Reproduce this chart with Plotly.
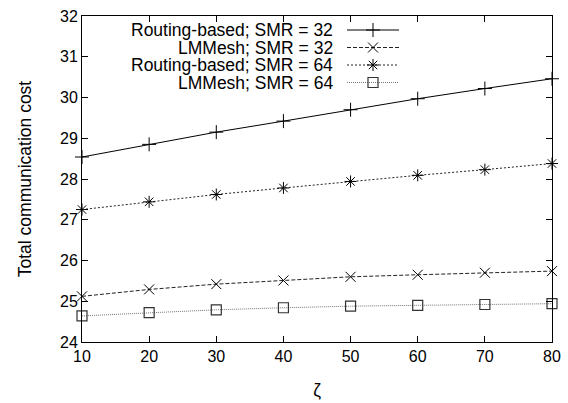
import plotly.graph_objects as go

# Total communication cost vs. zeta for two schemes at two SMR values
zeta = [10, 20, 30, 40, 50, 60, 70, 80]
routing_smr32 = [28.54, 28.85, 29.15, 29.42, 29.70, 29.97, 30.22, 30.46]
lmmesh_smr32 = [25.12, 25.29, 25.42, 25.51, 25.60, 25.65, 25.70, 25.74]
routing_smr64 = [27.25, 27.44, 27.62, 27.78, 27.94, 28.09, 28.23, 28.38]
lmmesh_smr64 = [24.64, 24.72, 24.79, 24.84, 24.88, 24.90, 24.92, 24.94]

series_names = [
    "Routing-based; SMR = 32",
    "LMMesh; SMR = 32",
    "Routing-based; SMR = 64",
    "LMMesh; SMR = 64",
]
x_ticks = [10, 20, 30, 40, 50, 60, 70, 80]
y_ticks = [24, 25, 26, 27, 28, 29, 30, 31, 32]

FONT = "Liberation Sans, Arial, sans-serif"

styles = [
    dict(line=dict(color="black", width=1, dash="solid"),
         marker=dict(symbol="cross-thin", size=10, color="black",
                     line=dict(color="black", width=1))),
    dict(line=dict(color="#222222", width=1, dash="4px,2px"),
         marker=dict(symbol="x-thin", size=10, color="black",
                     line=dict(color="black", width=1))),
    dict(line=dict(color="#222222", width=1, dash="2px,2px"),
         marker=dict(symbol="asterisk-open", size=10, color="black",
                     line=dict(color="black", width=1))),
    dict(line=dict(color="#777777", width=1, dash="1px,1px"),
         marker=dict(symbol="square-open", size=10, color="#333333",
                     line=dict(color="#333333", width=1.2))),
]
series = [routing_smr32, lmmesh_smr32, routing_smr64, lmmesh_smr64]

fig = go.Figure()
for name, ys, st in zip(series_names, series, styles):
    fig.add_trace(go.Scatter(
        x=zeta, y=ys, name=name, mode="lines+markers",
        line=st["line"], marker=st["marker"], cliponaxis=False,
        showlegend=False,
    ))

# Key drawn in the gnuplot style: right-aligned label, sample line to its right
key_rows = [30, 47.5, 65, 82.5]
for name, row, st in zip(series_names, key_rows, styles):
    fig.add_trace(go.Scatter(
        x=[347, 399], y=[row, row], mode="lines", line=st["line"],
        xaxis="x2", yaxis="y2", showlegend=False, hoverinfo="skip",
    ))
    fig.add_trace(go.Scatter(
        x=[373], y=[row], mode="markers", marker=st["marker"],
        xaxis="x2", yaxis="y2", showlegend=False, hoverinfo="skip",
        cliponaxis=False,
    ))
    fig.add_annotation(
        x=335, y=row, xref="x2", yref="y2", text=name, showarrow=False,
        xanchor="right", yanchor="middle",
        font=dict(family=FONT, size=17.5, color="black"),
    )

axis_common = dict(
    showline=True, linecolor="black", linewidth=1, mirror="ticks",
    ticks="inside", ticklen=6, tickwidth=1, tickcolor="black",
    showgrid=False, zeroline=False, automargin=False,
    tickfont=dict(family=FONT, size=16, color="black"),
)

fig.update_layout(
    width=568, height=403,
    margin=dict(l=82, r=16, t=16, b=61),
    paper_bgcolor="white", plot_bgcolor="white",
    xaxis=dict(range=[10, 80], tickvals=x_ticks,
               title=dict(text="ζ", font=dict(family=FONT, size=17.5, color="black"),
                          standoff=19),
               **axis_common),
    yaxis=dict(range=[24, 32], tickvals=y_ticks,
               title=dict(text="Total communication cost",
                          font=dict(family=FONT, size=17.5, color="black"),
                          standoff=23),
               **axis_common),
    xaxis2=dict(overlaying="x", range=[82, 552], visible=False),
    yaxis2=dict(overlaying="y", range=[342, 16], visible=False),
)

fig.write_html("out.html")
